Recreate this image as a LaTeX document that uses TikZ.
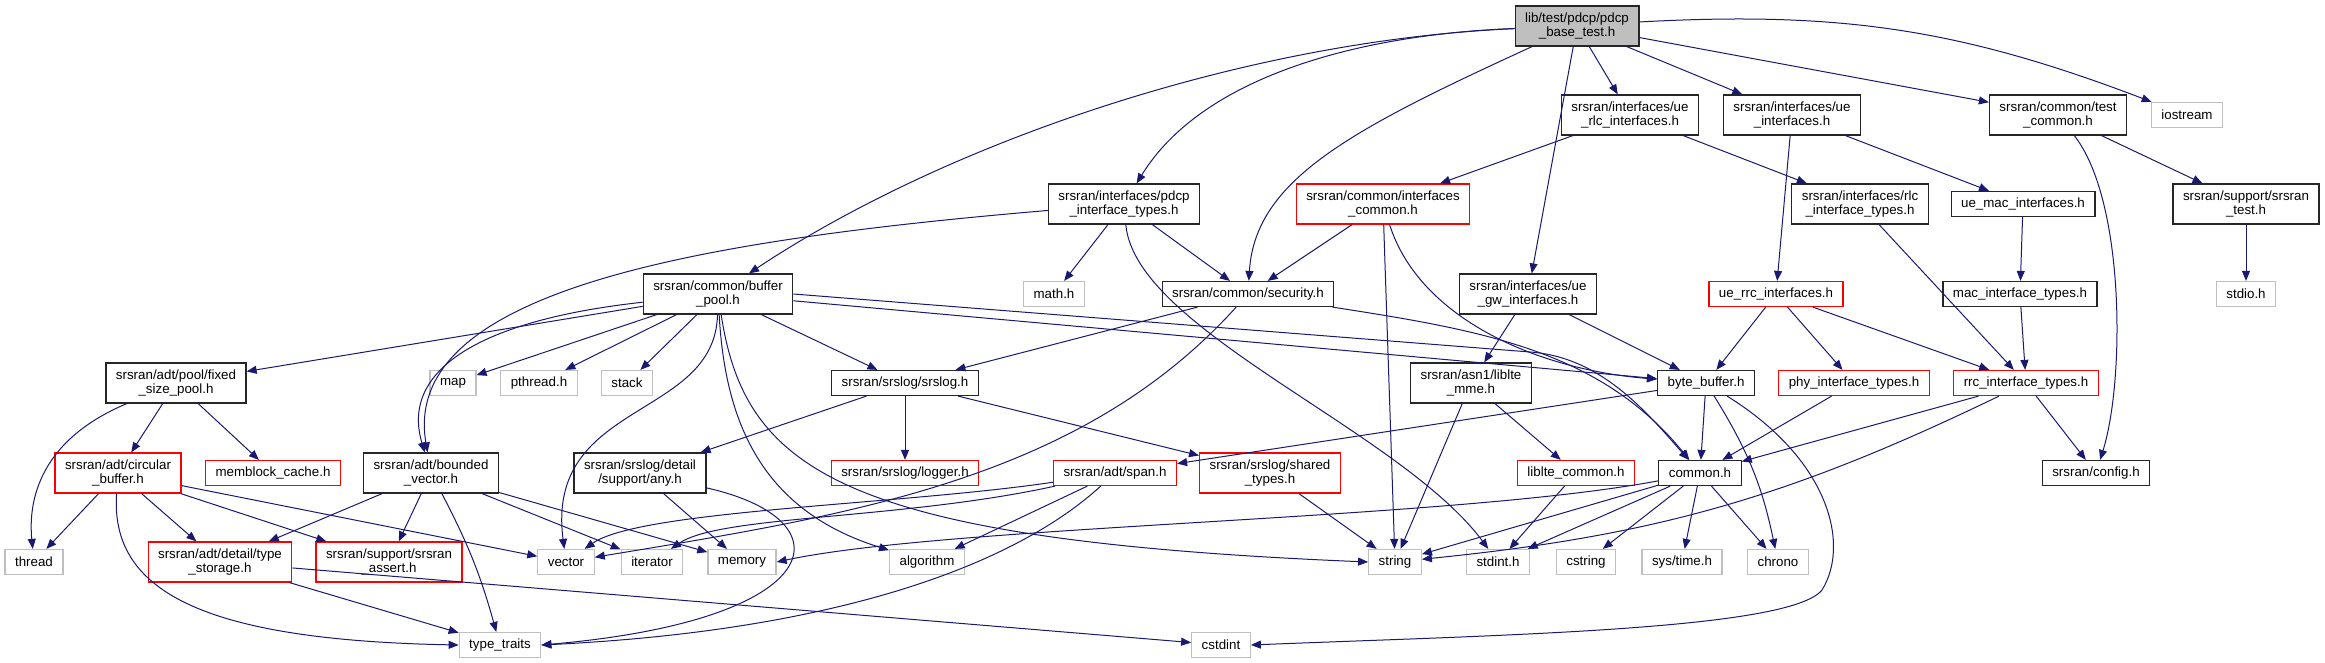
\documentclass[tikz,border=0pt]{standalone}
\usepackage{fontspec}
\setmainfont{Liberation Sans}
\usepackage{tikz}
\usetikzlibrary{arrows.meta}
\definecolor{edgeblue}{HTML}{191970}
\definecolor{lightgray}{HTML}{BFBFBF}

\begin{document}
\begin{tikzpicture}[x=0.75pt, y=-0.75pt,
  hdr/.style={draw=black!85, line width=0.9pt, fill=white, rectangle, align=center,
    font=\fontsize{10}{10.5}\selectfont, inner xsep=7.5pt, inner ysep=0pt, minimum height=18.75pt},
  two/.style={minimum height=30pt},
  trunc/.style={draw=red},
  sys/.style={draw=lightgray},
  dep/.style={draw=edgeblue, line width=0.75pt, -{Triangle[length=7.5pt,width=6pt]}}]
\useasboundingbox (0,0) rectangle (2325,663);

\node[hdr, two, fill=lightgray] (top) at (1577,26) {lib/test/pdcp/pdcp\\\_base\_test.h};

\node[hdr, two] (uerlc) at (1630,115) {srsran/interfaces/ue\\\_rlc\_interfaces.h};
\node[hdr, two] (ueif) at (1792,115) {srsran/interfaces/ue\\\_interfaces.h};
\node[hdr, two] (testcommon) at (2058,115) {srsran/common/test\\\_common.h};
\node[hdr, sys] (iostream) at (2187,115) {iostream};

\node[hdr, two] (pdcptypes) at (1124,204) {srsran/interfaces/pdcp\\\_interface\_types.h};
\node[hdr, two, trunc] (ifcommon) at (1383,204) {srsran/common/interfaces\\\_common.h};
\node[hdr, two] (rlctypes) at (1860,204) {srsran/interfaces/rlc\\\_interface\_types.h};
\node[hdr] (uemac) at (2023,204) {ue\_mac\_interfaces.h};
\node[hdr, two] (srsrantest) at (2246,204) {srsran/support/srsran\\\_test.h};

\node[hdr, two] (bufpool) at (718,294) {srsran/common/buffer\\\_pool.h};
\node[hdr, sys] (mathh) at (1054,294) {math.h};
\node[hdr] (security) at (1248,294) {srsran/common/security.h};
\node[hdr, two] (uegw) at (1528,294) {srsran/interfaces/ue\\\_gw\_interfaces.h};
\node[hdr, trunc] (uerrc) at (1776,294) {ue\_rrc\_interfaces.h};
\node[hdr] (mactypes) at (2020,294) {mac\_interface\_types.h};
\node[hdr, sys] (stdioh) at (2246,294) {stdio.h};

\node[hdr, two] (fixedpool) at (176,383) {srsran/adt/pool/fixed\\\_size\_pool.h};
\node[hdr, sys] (mapn) at (453,383) {map};
\node[hdr, sys] (pthread) at (539,383) {pthread.h};
\node[hdr, sys] (stack) at (627,383) {stack};
\node[hdr] (srslog) at (905,383) {srsran/srslog/srslog.h};
\node[hdr, two] (lltemme) at (1471,383) {srsran/asn1/liblte\\\_mme.h};
\node[hdr] (bytebuf) at (1706,383) {byte\_buffer.h};
\node[hdr, trunc] (phytypes) at (1854,383) {phy\_interface\_types.h};
\node[hdr, trunc] (rrctypes) at (2026,383) {rrc\_interface\_types.h};

\node[hdr, two, trunc] (circbuf) at (118,473) {srsran/adt/circular\\\_buffer.h};
\node[hdr, trunc] (memblock) at (273,473) {memblock\_cache.h};
\node[hdr, two] (boundedvec) at (431,473) {srsran/adt/bounded\\\_vector.h};
\node[hdr, two] (anyh) at (640,473) {srsran/srslog/detail\\/support/any.h};
\node[hdr, trunc] (logger) at (905,473) {srsran/srslog/logger.h};
\node[hdr, trunc] (span) at (1115,473) {srsran/adt/span.h};
\node[hdr, two, trunc] (sharedtypes) at (1270,473) {srsran/srslog/shared\\\_types.h};
\node[hdr, trunc] (lltecommon) at (1576,473) {liblte\_common.h};
\node[hdr] (commonh) at (1700,473) {common.h};
\node[hdr] (config) at (2096,473) {srsran/config.h};

\node[hdr, sys] (thread) at (34,562) {thread};
\node[hdr, two, trunc] (typestorage) at (220,562) {srsran/adt/detail/type\\\_storage.h};
\node[hdr, two, trunc] (srsassert) at (389,562) {srsran/support/srsran\\\_assert.h};
\node[hdr, sys] (vector) at (566,562) {vector};
\node[hdr, sys] (iterator) at (652,562) {iterator};
\node[hdr, sys] (memory) at (742,562) {memory};
\node[hdr, sys] (algorithm) at (927,562) {algorithm};
\node[hdr, sys] (stringh) at (1395,562) {string};
\node[hdr, sys] (stdinth) at (1498,562) {stdint.h};
\node[hdr, sys] (cstring) at (1586,562) {cstring};
\node[hdr, sys] (systime) at (1682,562) {sys/time.h};
\node[hdr, sys] (chrono) at (1778,562) {chrono};

\node[hdr, sys] (typetraits) at (500,645) {type\_traits};
\node[hdr, sys] (cstdint) at (1221,645) {cstdint};

% includes of the test header
\draw[dep] (top) .. controls (1250,40) and (950,140) .. (bufpool);
\draw[dep] (top) .. controls (1350,35) and (1200,80) .. (pdcptypes);
\draw[dep] (top) .. controls (1350,130) and (1255,180) .. (security);
\draw[dep] (top) -- (uegw);
\draw[dep] (top) -- (uerlc);
\draw[dep] (top) -- (ueif);
\draw[dep] (top) -- (testcommon);
\draw[dep] (top) to[bend left=12] (iostream);

\draw[dep] (uerlc) -- (ifcommon);
\draw[dep] (uerlc) -- (rlctypes);
\draw[dep] (ueif) -- (uerrc);
\draw[dep] (ueif) -- (uemac);
\draw[dep] (testcommon) -- (srsrantest);
\draw[dep] (testcommon) .. controls (2125,200) and (2125,380) .. (config);
\draw[dep] (srsrantest) -- (stdioh);
\draw[dep] (uemac) -- (mactypes);
\draw[dep] (mactypes) -- (rrctypes);
\draw[dep] (rlctypes) -- (rrctypes);
\draw[dep] (uerrc) -- (bytebuf);
\draw[dep] (uerrc) -- (phytypes);
\draw[dep] (uerrc) -- (rrctypes);

\draw[dep] (pdcptypes) .. controls (700,240) and (400,290) .. (boundedvec);
\draw[dep] (pdcptypes) -- (mathh);
\draw[dep] (pdcptypes) -- (security);
\draw[dep] (pdcptypes) .. controls (1135,330) and (1400,430) .. (stdinth);
\draw[dep] (ifcommon) -- (security);
\draw[dep] (ifcommon) -- (stringh);
\draw[dep] (ifcommon) .. controls (1420,320) and (1540,370) .. (bytebuf);
\draw[dep] (security) -- (srslog);
\draw[dep] (security) .. controls (1080,480) and (850,515) .. (vector);
\draw[dep] (security) .. controls (1480,330) and (1600,350) .. (commonh);
\draw[dep] (uegw) -- (bytebuf);
\draw[dep] (uegw) -- (lltemme);

\draw[dep] (bufpool) -- (fixedpool);
\draw[dep] (bufpool) .. controls (480,320) and (400,370) .. (boundedvec);
\draw[dep] (bufpool) -- (mapn);
\draw[dep] (bufpool) -- (pthread);
\draw[dep] (bufpool) -- (stack);
\draw[dep] (bufpool) .. controls (715,420) and (545,400) .. (vector);
\draw[dep] (bufpool) .. controls (725,420) and (760,510) .. (algorithm);
\draw[dep] (bufpool) .. controls (745,470) and (840,540) .. (stringh.west);
\draw[dep] (bufpool) -- (srslog);
\draw[dep] (bufpool) -- (bytebuf);
\draw[dep] (bufpool.east) -- (1530,352) .. controls (1600,357) and (1645,410) .. (commonh);

\draw[dep] (fixedpool) .. controls (40,440) and (28,500) .. (thread);
\draw[dep] (fixedpool) -- (circbuf);
\draw[dep] (fixedpool) -- (memblock);
\draw[dep] (circbuf) -- (thread);
\draw[dep] (circbuf) -- (typestorage);
\draw[dep] (circbuf) -- (srsassert);
\draw[dep] (circbuf) -- (vector);
\draw[dep] (circbuf) .. controls (110,590) and (200,640) .. (typetraits.west);
\draw[dep] (boundedvec) -- (typestorage);
\draw[dep] (boundedvec) -- (srsassert);
\draw[dep] (boundedvec) to[bend left=6] (typetraits);
\draw[dep] (boundedvec) -- (iterator);
\draw[dep] (boundedvec) -- (memory);
\draw[dep] (typestorage) -- (typetraits);
\draw[dep] (typestorage) -- (cstdint);

\draw[dep] (srslog) -- (anyh);
\draw[dep] (srslog) -- (logger);
\draw[dep] (srslog) -- (sharedtypes);
\draw[dep] (anyh) -- (memory);
\draw[dep] (anyh) .. controls (850,520) and (830,620) .. (typetraits.east);
\draw[dep] (span) .. controls (900,505) and (640,510) .. (vector);
\draw[dep] (span) .. controls (900,520) and (720,515) .. (iterator);
\draw[dep] (span) -- (algorithm);
\draw[dep] (span) .. controls (1020,560) and (850,630) .. (typetraits.east);

\draw[dep] (bytebuf) -- (span);
\draw[dep] (bytebuf) -- (commonh);
\draw[dep] (bytebuf) to[bend left=10] (chrono);
\draw[dep] (bytebuf) .. controls (1830,460) and (1850,545) .. (1822,590)
  .. controls (1790,630) and (1500,635) .. (cstdint.east);
\draw[dep] (rrctypes) -- (commonh);
\draw[dep] (rrctypes) -- (config);
\draw[dep] (rrctypes) to[bend left=10] (stringh);
\draw[dep] (lltemme) -- (stringh);
\draw[dep] (lltemme) -- (lltecommon);
\draw[dep] (lltecommon) -- (stdinth);
\draw[dep] (sharedtypes) -- (stringh);
\draw[dep] (phytypes) -- (commonh);

\draw[dep] (commonh) .. controls (1450,520) and (950,525) .. (memory.east);
\draw[dep] (commonh) -- (stringh);
\draw[dep] (commonh) -- (stdinth);
\draw[dep] (commonh) -- (cstring);
\draw[dep] (commonh) -- (systime);
\draw[dep] (commonh) -- (chrono);
\end{tikzpicture}
\end{document}
